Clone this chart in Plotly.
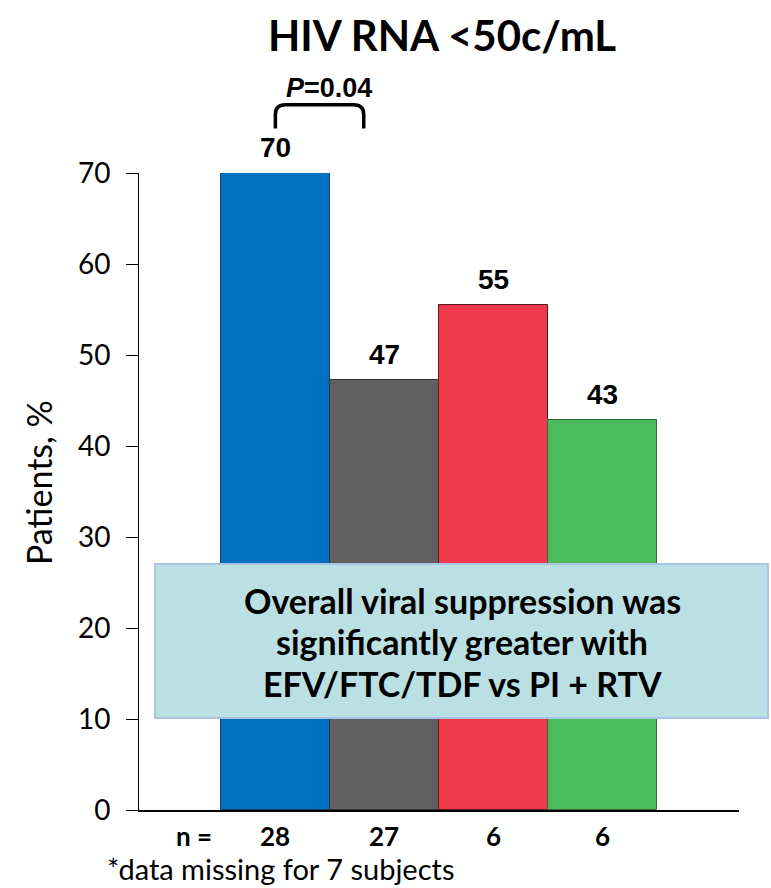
import plotly.graph_objects as go

# ---- data ----
groups = ["EFV/FTC/TDF", "Other NNRTI", "PI + RTV", "Other"]
values = [70, 47.2, 55.5, 42.9]
value_labels = ["70", "47", "55", "43"]
n_labels = ["28", "27", "6", "6"]
bar_colors = ["#0070C0", "#606060", "#EF3A4E", "#4BBB5B"]
bar_lines = ["#1F3F66", "#333333", "#5A1A22", "#2E6B37"]
y_ticks = [0, 10, 20, 30, 40, 50, 60, 70]
title_text = "HIV RNA <50c/mL"
p_text = "<i>P</i>=0.04"
p_value_y = 79.3          # height of the P-value label, in % units
bracket_y = [74.9, 77.5]  # bottom / top of the comparison bracket, in % units
bracket_x = [0.0, 0.81]   # from bar 1 centre toward bar 2
box_text = ["Overall viral suppression was",
            "significantly greater with",
            "EFV/FTC/TDF vs PI + RTV"]
footnote = "*data missing for 7 subjects"

# ---- layout geometry ----
W, H = 771, 888
L, R, T, B = 139, 32, 173, 78
XR = [-1.25, 4.25]
YR = [0, 70]
PW, PH = W - L - R, H - T - B


def px(xd):
    return (xd - XR[0]) / (XR[1] - XR[0])


def py(yd):
    return (yd - YR[0]) / (YR[1] - YR[0])


def qx(xp):  # page pixel -> paper
    return (xp - L) / PW


def qy(yp):
    return (H - B - yp) / PH


xs = list(range(len(groups)))

CAL = "Lato, 'Open Sans', sans-serif"
ARB = "Arial, 'Liberation Sans', sans-serif"

fig = go.Figure()
fig.add_trace(go.Bar(
    x=xs, y=values, width=1.0,
    marker=dict(color=bar_colors, line=dict(color=bar_lines, width=1)),
    hoverinfo="skip", showlegend=False,
))

ann = []
# value labels
for x, v, t in zip(xs, values, value_labels):
    ann.append(dict(x=px(x), y=py(v), xref="paper", yref="paper", text=f"<b>{t}</b>",
                    showarrow=False, xanchor="center", yanchor="bottom", yshift=8,
                    font=dict(family=ARB, size=28, color="#000")))
# n labels
ann.append(dict(x=px(-0.75), y=qy(836), xref="paper", yref="paper", text="<b>n =</b>",
                showarrow=False, xanchor="center", yanchor="middle", borderpad=0,
                font=dict(family=CAL, size=26, color="#000")))
for x, n in zip(xs, n_labels):
    ann.append(dict(x=px(x), y=qy(836), xref="paper", yref="paper", text=f"<b>{n}</b>",
                    showarrow=False, xanchor="center", yanchor="middle", borderpad=0,
                    font=dict(family=CAL, size=26, color="#000")))
# footnote
ann.append(dict(x=qx(106), y=qy(868), xref="paper", yref="paper", text=footnote,
                showarrow=False, xanchor="left", yanchor="middle", borderpad=0,
                font=dict(family=CAL, size=29, color="#000")))
# P value
ann.append(dict(x=px(0.49), y=py(p_value_y), xref="paper", yref="paper",
                text=f"<b>{p_text}</b>", showarrow=False, xanchor="center", yanchor="middle",
                font=dict(family=ARB, size=27, color="#000")))
# title
ann.append(dict(x=qx(442), y=qy(35), xref="paper", yref="paper", text=f"<b>{title_text}</b>",
                showarrow=False, xanchor="center", yanchor="middle",
                font=dict(family=CAL, size=42, color="#000")))
# y title
ann.append(dict(x=qx(38), y=qy(483), xref="paper", yref="paper", text="Patients, %",
                showarrow=False, textangle=-90, xanchor="center", yanchor="middle",
                font=dict(family=CAL, size=34, color="#000")))
# box text (three lines)
line_y = [600, 641, 683]
for line, yl in zip(box_text, line_y):
    ann.append(dict(x=qx(462), y=qy(yl), xref="paper", yref="paper", text=f"<b>{line}</b>",
                    showarrow=False, xanchor="center", yanchor="middle",
                    font=dict(family=CAL, size=34, color="#000")))

shapes = []
# message box
shapes.append(dict(type="rect", xref="paper", yref="paper",
                   x0=qx(155), x1=qx(768), y0=qy(718), y1=qy(564),
                   fillcolor="#BBE0E3", line=dict(color="#A9C3E3", width=2), layer="above"))
# bracket
bx0, bx1 = px(bracket_x[0]), px(bracket_x[1])
by_bot, by_top = py(bracket_y[0]), py(bracket_y[1])
rx = 10 / PW
ry = 10 / PH
path = (f"M {bx0},{by_bot} L {bx0},{by_top - ry} Q {bx0},{by_top} {bx0 + rx},{by_top} "
        f"L {bx1 - rx},{by_top} Q {bx1},{by_top} {bx1},{by_top - ry} L {bx1},{by_bot}")
shapes.append(dict(type="path", xref="paper", yref="paper", path=path,
                   line=dict(color="#000", width=3.5)))

fig.update_layout(
    width=W, height=H,
    margin=dict(l=L, r=R, t=T, b=B, pad=0),
    paper_bgcolor="white", plot_bgcolor="white",
    xaxis=dict(range=XR, showticklabels=False, ticks="", showgrid=False, zeroline=False,
               showline=True, linecolor="#000", linewidth=2, fixedrange=True),
    yaxis=dict(range=YR, tickvals=y_ticks, ticks="outside", ticklen=12, tickcolor="#000",
               tickwidth=1, showgrid=False, zeroline=False, showline=True, linecolor="#000",
               linewidth=1, tickfont=dict(family=CAL, size=28, color="#000"),
               ticklabelstandoff=10, fixedrange=True),
    annotations=ann, shapes=shapes, bargap=0,
)

fig.write_html("out.html")
